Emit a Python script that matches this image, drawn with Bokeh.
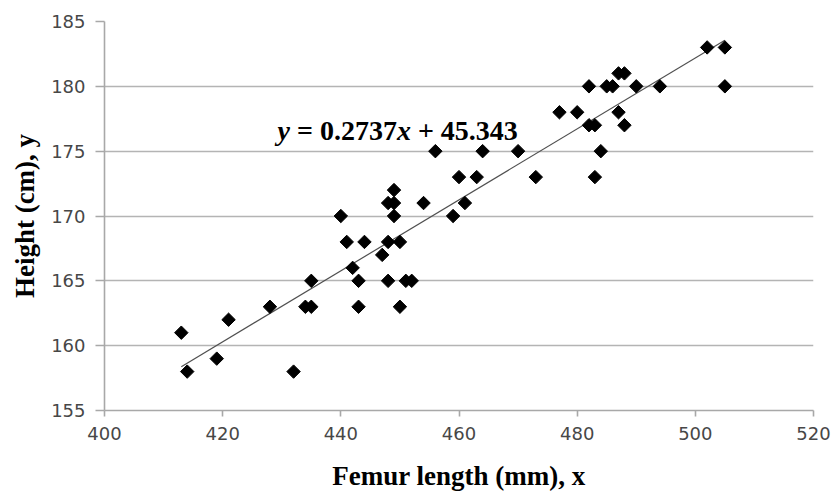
import numpy as np
from bokeh.plotting import figure
from bokeh.models import FixedTicker, Label, Range1d
from bokeh.embed import file_html
from bokeh.resources import INLINE

# Data
femur_mm = [413, 414, 419, 421, 428, 432, 434, 435, 435, 440, 441, 442, 443, 443,
            444, 447, 448, 448, 448, 449, 449, 449, 450, 450, 451, 452, 454, 456,
            459, 460, 461, 463, 464, 470, 473, 477, 480, 482, 482, 483, 483, 484,
            485, 486, 487, 488, 487, 488, 490, 494, 502, 505, 505]
height_cm = [161, 158, 159, 162, 163, 158, 163, 163, 165, 170, 168, 166, 165, 163,
             168, 167, 168, 165, 171, 171, 172, 170, 168, 163, 165, 165, 171, 175,
             170, 173, 171, 173, 175, 175, 173, 178, 178, 180, 177, 177, 173, 175,
             180, 180, 181, 181, 178, 177, 180, 180, 183, 183, 180]
slope = 0.2737
intercept = 45.343
x_ticks = [400, 420, 440, 460, 480, 500, 520]
y_ticks = [155, 160, 165, 170, 175, 180, 185]

W, H = 838, 496
L, R, T, B = 104, 25, 21, 86

p = figure(width=W, height=H, output_backend="svg", toolbar_location=None,
           x_range=Range1d(400, 520), y_range=Range1d(155, 185),
           min_border_left=L, min_border_right=R, min_border_top=T, min_border_bottom=B)
p.outline_line_color = None
p.background_fill_color = "white"
p.border_fill_color = "white"

p.xgrid.grid_line_color = None
p.ygrid.grid_line_color = "#b4b4b4"
p.ygrid.grid_line_width = 1.6
p.ygrid.ticker = FixedTicker(ticks=y_ticks)

serif = "Liberation Serif"
tick_font = "DejaVu Sans"
for ax in (p.xaxis[0], p.yaxis[0]):
    ax.axis_line_color = "#a8a8a8"
    ax.axis_line_width = 1.6
    ax.major_tick_line_color = "#a8a8a8"
    ax.major_tick_line_width = 1.6
    ax.minor_tick_line_color = None
    ax.major_tick_in = 0
    ax.major_label_text_font = tick_font
    ax.major_label_text_font_size = "18px"
    ax.major_label_text_color = "#474747"
    ax.axis_label_text_font = serif
    ax.axis_label_text_font_size = "27px"
    ax.axis_label_text_font_style = "bold"
    ax.axis_label_text_color = "black"
p.xaxis.ticker = FixedTicker(ticks=x_ticks)
p.yaxis.ticker = FixedTicker(ticks=y_ticks)
p.xaxis.major_tick_out = 6
p.yaxis.major_tick_out = 9
p.xaxis.major_label_standoff = 10
p.yaxis.major_label_standoff = 10
p.xaxis.axis_label = "Femur length (mm), x"
p.yaxis.axis_label = "Height (cm), y"
p.xaxis.axis_label_standoff = 18
p.yaxis.axis_label_standoff = 8

# trend line
xl = np.array([min(femur_mm), max(femur_mm)], dtype=float)
p.line(xl, slope * xl + intercept, line_color="#505050", line_width=1.2)

p.scatter(femur_mm, height_cm, marker="square", angle=np.pi / 4, size=9.5,
          fill_color="black", line_color="black")

# Times New Roman Bold metrics (Liberation Serif is metric compatible)
WB = {" ": 250, ".": 250, "=": 570, "+": 570}
for d in "0123456789":
    WB[d] = 500
WBI = {"x": 500, "y": 444}


def tw(s, size, table):
    return sum(table.get(ch, 500) for ch in s) * size / 1000.0


fs = 28


def lab(x, y, text, italic=False):
    p.add_layout(Label(x=x, y=y, x_units="screen", y_units="screen", text=text,
                       text_font=serif, text_font_size=f"{fs}px",
                       text_font_style="bold italic" if italic else "bold",
                       text_color="black", text_align="left",
                       text_baseline="alphabetic"))

# equation "y = 0.2737x + 45.343"
ex = 277 - L
ey = (H - B) - 130
sp = tw(" ", fs, WB)
parts = [("y", True, sp), ("=", False, sp), ("0.2737", False, 0), ("x", True, sp),
         ("+", False, sp), ("45.343", False, 0)]
cx = ex
for txt, it, gap in parts:
    lab(cx, ey, txt, italic=it)
    cx += tw(txt, fs, WBI if it else WB) + gap

open("out.html", "w").write(file_html(p, INLINE))
